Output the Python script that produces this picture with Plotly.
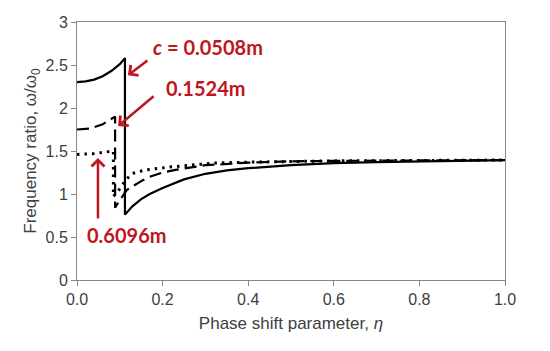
import plotly.graph_objects as go

# Series: c = 0.0508 m (solid)
eta_c1 = [0, 0.02, 0.04, 0.06, 0.08, 0.10, 0.112, 0.112, 0.13, 0.15, 0.17, 0.20, 0.25, 0.30, 0.35, 0.40, 0.50, 0.60, 0.70, 0.80, 0.90, 1.00]
w_c1 = [2.30, 2.31, 2.33, 2.37, 2.43, 2.51, 2.58, 0.76, 0.86, 0.94, 1.00, 1.07, 1.17, 1.235, 1.275, 1.30, 1.335, 1.36, 1.37, 1.38, 1.39, 1.395]

# Series: c = 0.1524 m (dashed)
eta_c2 = [0, 0.03, 0.06, 0.089, 0.089, 0.10, 0.117, 0.15, 0.17, 0.20, 0.23, 0.30, 0.40, 0.50, 0.60, 0.80, 1.00]
w_c2 = [1.75, 1.76, 1.81, 1.90, 0.84, 0.93, 1.05, 1.15, 1.20, 1.25, 1.28, 1.335, 1.365, 1.38, 1.385, 1.39, 1.395]

# Series: c = 0.6096 m (dotted)
eta_c3 = [0, 0.04, 0.085, 0.085, 0.10, 0.115, 0.13, 0.16, 0.21, 0.32, 0.40, 0.60, 0.80, 1.00]
w_c3 = [1.46, 1.47, 1.50, 0.97, 1.06, 1.17, 1.24, 1.28, 1.31, 1.36, 1.37, 1.385, 1.39, 1.395]

x_ticks = [0.0, 0.2, 0.4, 0.6, 0.8, 1.0]
y_ticks = [0, 0.5, 1, 1.5, 2, 2.5, 3]

red = "#BE161E"
gray = "#868686"
txt = "#404040"

fig = go.Figure()
fig.add_trace(go.Scatter(x=eta_c1, y=w_c1, mode="lines",
                         line=dict(color="black", width=2.2)))
fig.add_trace(go.Scatter(x=eta_c2, y=w_c2, mode="lines",
                         line=dict(color="black", width=2.2, dash="12px,6px")))
fig.add_trace(go.Scatter(x=eta_c3, y=w_c3, mode="lines",
                         line=dict(color="black", width=3, dash="2.5px,5px")))

# arrows (tip at data point, tail offset in pixels)
arrows = [
    (0.119, 2.38, 21, -16),
    (0.096, 1.79, 37, -31),
    (0.049, 1.42, 0, 62),
]
for x, y, ax, ay in arrows:
    fig.add_annotation(x=x, y=y, ax=ax, ay=ay, xref="x", yref="y",
                       text="", showarrow=True, arrowhead=4, arrowsize=1,
                       arrowwidth=2.5, arrowcolor=red)

labels = [
    (0.306, 2.71, "<i>c</i> = 0.0508m"),
    (0.301, 2.23, "0.1524m"),
    (0.117, 0.52, "0.6096m"),
]
for x, y, t in labels:
    fig.add_annotation(x=x, y=y, xref="x", yref="y", text="<b>" + t + "</b>",
                       showarrow=False,
                       font=dict(family="Lato", size=20, color=red))

fig.update_layout(
    width=550, height=351,
    margin=dict(l=69, r=53, t=14, b=79),
    paper_bgcolor="white", plot_bgcolor="white",
    showlegend=False,
    font=dict(family="Liberation Sans", color=txt),
)
fig.update_xaxes(range=[0, 1], tickvals=x_ticks, ticktext=[f"{v:.1f}" for v in x_ticks],
                 automargin=False,
                 showgrid=False, zeroline=False, showline=True, linecolor=gray,
                 linewidth=1, mirror=True, ticks="outside", ticklen=5, tickcolor=gray,
                 tickfont=dict(size=16, color=txt),
                 title=dict(text="Phase shift parameter, <i>η</i>", font=dict(size=17, color=txt),
                            standoff=9))
fig.update_yaxes(range=[0, 3], tickvals=y_ticks, ticktext=[f"{v:g}" for v in y_ticks],
                 automargin=False,
                 showgrid=False, zeroline=False, showline=True, linecolor=gray,
                 linewidth=1, mirror=True, ticks="outside", ticklen=5, tickcolor=gray,
                 tickfont=dict(size=16, color=txt),
                 title=dict(text="Frequency ratio, ω/ω<sub>0</sub>", font=dict(size=17, color=txt),
                            standoff=4))

fig.write_html("out.html")
